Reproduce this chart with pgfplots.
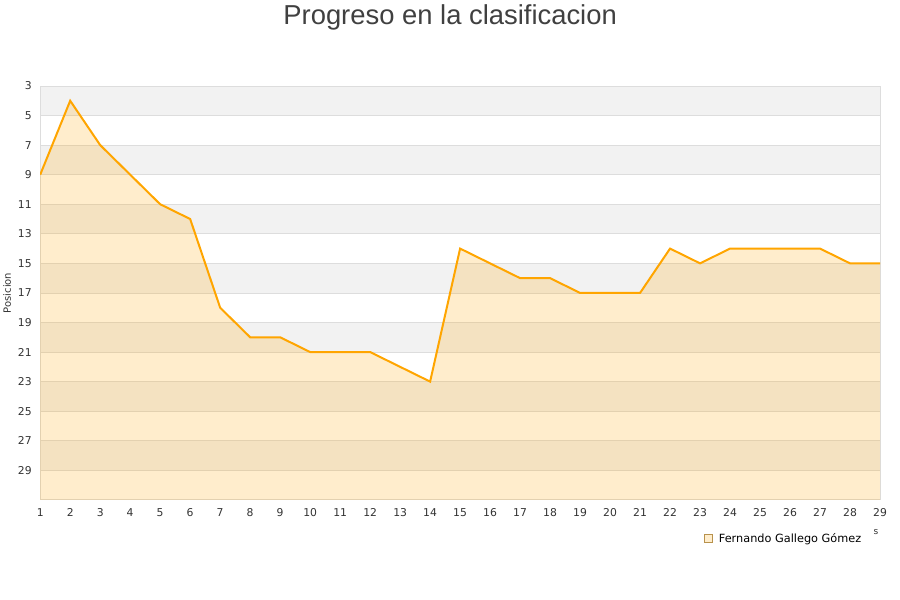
\documentclass[border=0pt]{standalone}
\usepackage{pgfplots}
\pgfplotsset{compat=1.18}
\usepackage{fontspec}
\setmainfont{DejaVu Sans}
\newfontfamily\titlefont{Liberation Sans}
\definecolor{lineor}{HTML}{FFA500}
\definecolor{bandgray}{HTML}{F2F2F2}
\definecolor{gridc}{HTML}{DDDDDD}
\definecolor{txt}{HTML}{333333}
\begin{document}
\begin{tikzpicture}
\begin{axis}[
  set layers,
  at={(40pt,100pt)}, anchor=south west,
  scale only axis, width=840pt, height=414pt,
  xmin=1, xmax=29, ymin=3, ymax=31,
  y dir=reverse,
  xtick={1,...,29},
  ytick={3,5,...,29},
  ymajorgrids, grid style={gridc, line width=0.8pt},
  axis line style={gridc, line width=0.8pt},
  major tick length=0pt,
  tick label style={font=\fontsize{10.8}{12}\selectfont, text=txt},
  /pgf/number format/assume math mode=true,
  ylabel={Posicion}, ylabel style={font=\fontsize{10}{12}\selectfont, text=txt},
  yticklabel style={xshift=-5pt},
  xticklabel style={yshift=-5pt},
  legend style={at={(0.885,-0.094)}, anchor=center, draw=none, fill=none, font=\fontsize{11.3}{13}\selectfont, text=black},
  legend image code/.code={\draw[solid, fill=lineor!20, draw=black!40!lineor!70, line width=0.6pt] (0pt,-4pt) rectangle (8pt,4pt); \path[draw=none] (0pt,0pt) -- (13pt,0pt);},
]
\addplot[on layer=axis background, fill=bandgray, draw=none, forget plot] coordinates {(1,3) (29,3) (29,5) (1,5)} -- cycle;
\addplot[on layer=axis background, fill=bandgray, draw=none, forget plot] coordinates {(1,7) (29,7) (29,9) (1,9)} -- cycle;
\addplot[on layer=axis background, fill=bandgray, draw=none, forget plot] coordinates {(1,11) (29,11) (29,13) (1,13)} -- cycle;
\addplot[on layer=axis background, fill=bandgray, draw=none, forget plot] coordinates {(1,15) (29,15) (29,17) (1,17)} -- cycle;
\addplot[on layer=axis background, fill=bandgray, draw=none, forget plot] coordinates {(1,19) (29,19) (29,21) (1,21)} -- cycle;
\addplot[on layer=axis background, fill=bandgray, draw=none, forget plot] coordinates {(1,23) (29,23) (29,25) (1,25)} -- cycle;
\addplot[on layer=axis background, fill=bandgray, draw=none, forget plot] coordinates {(1,27) (29,27) (29,29) (1,29)} -- cycle;
\addplot[draw=none, fill=lineor, fill opacity=0.2, forget plot] coordinates {
(1,31) (1,9) (2,4) (3,7) (4,9) (5,11) (6,12) (7,18) (8,20) (9,20) (10,21)
(11,21) (12,21) (13,22) (14,23) (15,14) (16,15) (17,16) (18,16) (19,17) (20,17)
(21,17) (22,14) (23,15) (24,14) (25,14) (26,14) (27,14) (28,15) (29,15) (29,31)
} -- cycle;
\addplot[draw=lineor, line width=2pt] coordinates {
(1,9) (2,4) (3,7) (4,9) (5,11) (6,12) (7,18) (8,20) (9,20) (10,21)
(11,21) (12,21) (13,22) (14,23) (15,14) (16,15) (17,16) (18,16) (19,17) (20,17)
(21,17) (22,14) (23,15) (24,14) (25,14) (26,14) (27,14) (28,15) (29,15)
};
\addlegendentry{Fernando Gallego Gómez}
\end{axis}
\path (0pt,0pt) rectangle (900pt,600pt);
\node[font=\titlefont\fontsize{27.4}{30}\selectfont, text=black!75, anchor=base] at (450pt,575pt) {Progreso en la clasificacion};
\node[font=\fontsize{9}{10}\selectfont, text=txt] at (876pt,68pt) {s};
\end{tikzpicture}
\end{document}
